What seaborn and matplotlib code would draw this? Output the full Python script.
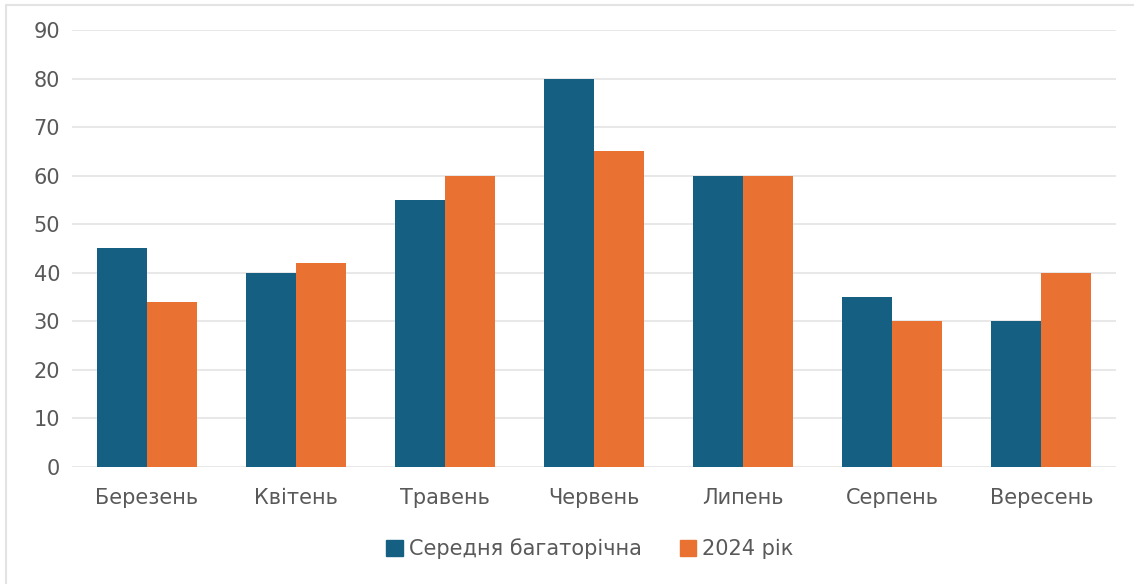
import matplotlib
matplotlib.use("Agg")
import matplotlib.pyplot as plt
from matplotlib.lines import Line2D
from matplotlib.patches import Rectangle
import seaborn as sns
import pandas as pd

months = ["Березень", "Квітень", "Травень", "Червень", "Липень", "Серпень", "Вересень"]
long_term_avg = [45, 40, 55, 80, 60, 35, 30]
year_2024 = [34, 42, 60, 65, 60, 30, 40]
series_names = ["Середня багаторічна", "2024 рік"]
yticks = list(range(0, 100, 10))

df = pd.DataFrame({
    "month": months * 2,
    "value": long_term_avg + year_2024,
    "series": [series_names[0]] * len(months) + [series_names[1]] * len(months),
})

sns.set_theme(style="white")
plt.rcParams["font.family"] = ["DejaVu Sans"]

text_color = "#595959"
colors = ["#156082", "#E97132"]

fig = plt.figure(figsize=(11.34, 5.84), dpi=100)
ax = fig.add_axes([72 / 1134, 1 - 467 / 584, (1116 - 72) / 1134, (467 - 30) / 584])

sns.barplot(data=df, x="month", y="value", hue="series", palette=colors,
            width=0.67, gap=0, saturation=1, ax=ax, legend=False, linewidth=0)

ax.set_ylim(0, 90)
ax.set_xlim(-0.5, len(months) - 0.5)
ax.set_yticks(yticks)
ax.set_yticklabels([str(t) for t in yticks])
ax.yaxis.grid(True, color="#E6E6E6", linewidth=1.3)
ax.set_axisbelow(True)
for s in ax.spines.values():
    s.set_visible(False)
ax.tick_params(axis="both", length=0, labelsize=15, colors=text_color)
ax.tick_params(axis="y", pad=8.5)
ax.tick_params(axis="x", pad=15)
ax.set_xlabel("")
ax.set_ylabel("")

# legend below the plot
handles = [Rectangle((0, 0), 1, 1, color=c) for c in colors]
fig.legend(handles, series_names, loc="center", bbox_to_anchor=(590 / 1134, 1 - 549 / 584),
           ncol=2, frameon=False, fontsize=15, labelcolor=text_color,
           handlelength=0.8, handleheight=0.8, handletextpad=0.3, columnspacing=1.8)

# chart frame edges (left and top)
frame_kw = dict(transform=fig.transFigure, color="#E3E3E3", linewidth=1.5)
fig.lines.append(Line2D([6 / 1134, 6 / 1134], [0, 1 - 5 / 584], **frame_kw))
fig.lines.append(Line2D([6 / 1134, 1], [1 - 5 / 584, 1 - 5 / 584], **frame_kw))

fig.savefig("out.png", dpi=100, facecolor="white")
